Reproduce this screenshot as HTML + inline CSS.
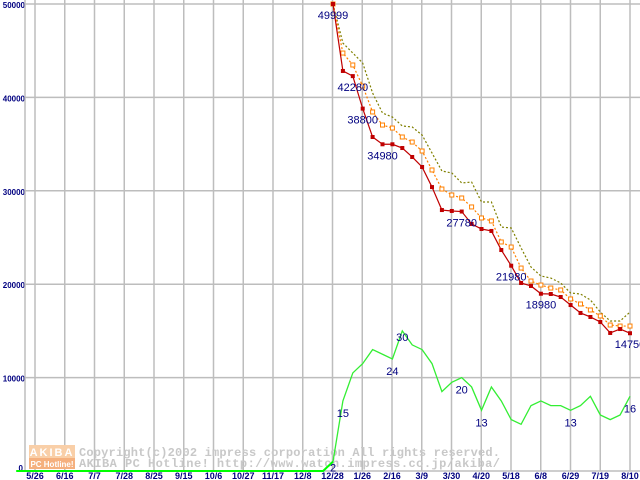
<!DOCTYPE html>
<html><head><meta charset="utf-8"><style>
body{margin:0;background:#fff;}
svg{display:block;}
</style></head><body>
<svg id="chart" width="640" height="480" xmlns="http://www.w3.org/2000/svg" font-family="Liberation Sans, sans-serif">
<g id="grid"></g>
<g id="watermark">
  <rect x="29" y="445" width="46" height="13" fill="#f9cfa8"/>
  <rect x="29" y="458" width="46" height="11" fill="#f5b07e"/>
  <text x="52" y="456" font-size="11" font-weight="bold" fill="#fff" text-anchor="middle" letter-spacing="2">AKIBA</text>
  <text x="52" y="467" font-size="8" font-weight="bold" fill="#fff" text-anchor="middle">PC Hotline!</text>
  <text x="79" y="456" font-family="Liberation Mono, monospace" font-size="12" font-weight="bold" fill="#c8c8c8" textLength="421">Copyright(c)2002 impress corporation All rights reserved.</text>
  <text x="79" y="467" font-family="Liberation Mono, monospace" font-size="12" font-weight="bold" fill="#c8c8c8" textLength="421">AKIBA PC Hotline!  http://www.watch.impress.co.jp/akiba/</text>
</g>
<g id="series"></g>
<g id="labels"></g>
</svg>
<script>
const xTickLabels = ["5/26","6/16","7/7","7/28","8/25","9/15","10/6","10/27","11/17","12/8","12/28","1/26","2/16","3/9","3/30","4/20","5/18","6/8","6/29","7/19","8/10"];
const yTickLabels = ["0","10000","20000","30000","40000","50000"];
const yTickValues = [0,10000,20000,30000,40000,50000];
const minPrice = [49999,42830,42280,38800,35760,34980,34980,34580,33620,32550,30400,27940,27840,27780,26450,25910,25700,23660,21980,20130,19810,18980,18950,18630,17770,16920,16490,15950,14780,15200,14750];
const avgPrice = [49999,44750,43470,41220,38440,37040,36720,35760,35220,34260,32230,30190,29550,29230,28270,27090,26770,24520,23980,21730,20340,19910,19590,19380,18420,17880,17240,16600,15630,15520,15520];
const maxPrice = [49999,45820,44750,43680,40470,38330,37900,36940,36830,35970,34050,32120,31910,30840,30940,28800,28800,26120,26020,23880,21840,20880,20660,20130,19060,18950,18310,17020,16060,16060,17020];
const shopCount = [2,15,21,23,26,25,24,30,27,26,23,17,19,20,18,13,18,15,11,10,14,15,14,14,13,14,16,12,11,12,16];
const shopCountBefore = [0,0,0,0,0,0,0,0,0,0,0,0,0,0,0,0,0,0,0,0,0,0,0,0,0,0,0,0,0,0,0,0];
const priceLabelIdx = [0,2,3,5,13,18,21,30];
const countLabelIdx = [1,6,7,13,15,24,30];

const NS="http://www.w3.org/2000/svg";
const X0=333, DX=9.9, Y0=471, YS=467/50000;
const xOf=i=>X0+i*DX;
const yOf=v=>Y0-v*YS;
const yCount=v=>Y0-v*4.67;
function mk(tag,attrs,parent){const e=document.createElementNS(NS,tag);for(const k in attrs)e.setAttribute(k,attrs[k]);parent.appendChild(e);return e;}
const grid=document.getElementById('grid'), ser=document.getElementById('series'), lab=document.getElementById('labels');

yTickValues.forEach((v,k)=>{
  const y=yOf(v);
  const l=mk('line',{x1:25,x2:640,y1:y,y2:y,stroke:'#bdbdbd','stroke-width':1.5},grid);
  
  
  const t=mk('text',{x:k===0?23:25,y:k===0?y:y+4,'font-size':8,'font-weight':'bold',fill:'#000080','text-anchor':'end'},grid);
  t.textContent=yTickLabels[k];
  
  
});
const ax=mk('line',{x1:25,x2:25,y1:0,y2:471,stroke:'#bdbdbd','stroke-width':1.5},grid);


xTickLabels.forEach((s,k)=>{
  const x=35+k*29.75;
  const l=mk('line',{x1:x,x2:x,y1:0,y2:471,stroke:'#bdbdbd','stroke-width':1.5},grid);
  
  
  const t=mk('text',{x:x,y:479,'font-size':9,'font-weight':'bold',fill:'#000080','text-anchor':'middle'},grid);
  t.textContent=s;
  
  
});

function pts(arr,fy,off){return arr.map((v,i)=>xOf(i+off)+','+fy(v)).join(' ');}
const gb=mk('polyline',{points:pts(shopCountBefore,yCount,-shopCountBefore.length)+' '+xOf(0)+','+yCount(shopCount[0]),fill:'none',stroke:'#00ff00','stroke-width':2},ser);


const g=mk('polyline',{points:pts(shopCount,yCount,0),fill:'none',stroke:'#33ee33','stroke-width':1.3},ser);


const mx=mk('polyline',{points:pts(maxPrice,yOf,0),fill:'none',stroke:'#808000','stroke-width':1.2,'stroke-dasharray':'2,2'},ser);


const av=mk('polyline',{points:pts(avgPrice,yOf,0),fill:'none',stroke:'#ff8000','stroke-width':1.2,'stroke-dasharray':'2,2'},ser);


avgPrice.forEach((v,i)=>{
  const r=mk('rect',{x:xOf(i)-2,y:yOf(v)-2,width:4,height:4,fill:'#fff',stroke:'#ff8000','stroke-width':1},ser);
  
  
});
const mn=mk('polyline',{points:pts(minPrice,yOf,0),fill:'none',stroke:'#c00000','stroke-width':1.2},ser);


minPrice.forEach((v,i)=>{
  const r=mk('rect',{x:xOf(i)-2,y:yOf(v)-2,width:4,height:4,fill:'#c00000'},ser);
  
  
});
priceLabelIdx.forEach(i=>{
  const t=mk('text',{x:xOf(i),y:yOf(minPrice[i])+15,'font-size':11,fill:'#000080','text-anchor':'middle'},lab);
  t.textContent=minPrice[i];
  
  
});
const l0=mk('text',{x:xOf(0),y:yCount(shopCount[0])+10,'font-size':11,fill:'#000080','text-anchor':'middle'},lab);
l0.textContent=shopCount[0];


countLabelIdx.forEach(i=>{
  const t=mk('text',{x:xOf(i),y:yCount(shopCount[i])+(i===7?10:16),'font-size':11,fill:'#000080','text-anchor':'middle'},lab);
  t.textContent=shopCount[i];
  
  
});
</script>
</body></html>
